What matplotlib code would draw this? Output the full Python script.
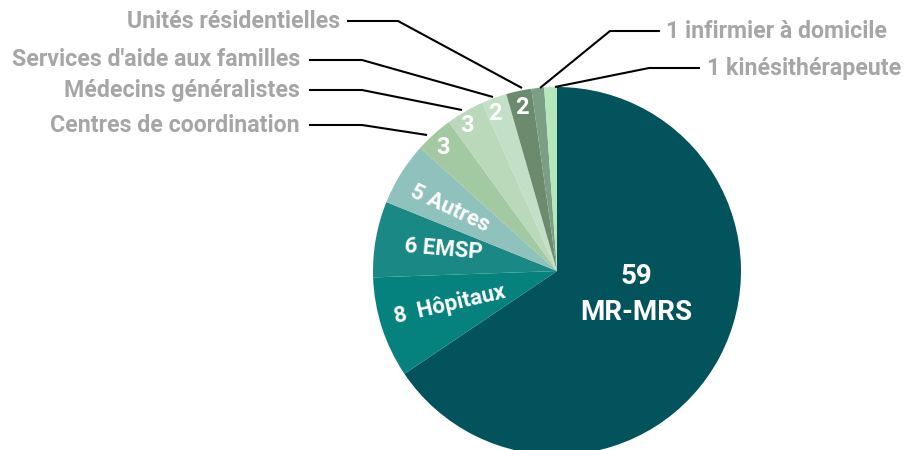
import matplotlib.pyplot as plt
import numpy as np

# données (sens horaire depuis le haut)
categories = ["MR-MRS", "Hôpitaux", "EMSP", "Autres", "Centres de coordination",
              "Médecins généralistes", "Services d'aide aux familles",
              "Unités résidentielles", "infirmier à domicile", "kinésithérapeute"]
values = [59, 8, 6, 5, 3, 3, 2, 2, 1, 1]
colors = ["#02535B", "#06827E", "#1A8986", "#8FC1BD", "#A3C9A3",
          "#BAD9BA", "#C4DFC7", "#6B8A6E", "#7A9F84", "#B5E6BC"]

W, H = 906, 450
fig = plt.figure(figsize=(W / 100, H / 100), dpi=100)
ax = fig.add_axes([0, 0, 1, 1])

cx, cy, r = 557, H - 271, 184
ax.pie(values, colors=colors, startangle=90, counterclock=False,
       center=(cx, cy), radius=r, frame=True,
       wedgeprops=dict(linewidth=0))
ax.set_xlim(0, W)
ax.set_ylim(0, H)
ax.axis("off")

font_in = ["Roboto", "DejaVu Sans"]
font_out = ["Roboto", "DejaVu Sans"]

def px(x, y):
    return x, H - y

# étiquettes internes
ax.text(*px(636, 277), "59", color="white", fontsize=20, fontweight="bold",
        family=font_in, ha="center", va="center")
ax.text(*px(636, 312), "MR-MRS", color="white", fontsize=20, fontweight="bold",
        family=font_in, ha="center", va="center")
inner = [
    ("8  " + categories[1], (450, 305), 13, 16),
    ("6 " + categories[2], (443, 249), -5, 16),
    ("5 " + categories[3], (450, 208), -25, 16),
    (str(values[4]), (443, 148), 0, 17),
    (str(values[5]), (467, 125), 0, 17),
    (str(values[6]), (495, 113), 0, 17),
    (str(values[7]), (522, 107), 0, 17),
]
for txt, (x, y), rot, fs in inner:
    ax.text(*px(x, y), txt, color="white", fontsize=fs, fontweight="bold",
            family=font_in, ha="center", va="center", rotation=rot,
            rotation_mode="anchor")

# étiquettes externes avec lignes de rappel
grey = "#A6A6A6"
left_labels = [
    (categories[7], 21, 347, 398, (522, 88), 340),
    (categories[6], 60, 309, 362, (493, 97), 300),
    (categories[5], 90, 309, 362, (462, 110), 300),
    (categories[4], 125, 309, 362, (427, 135), 300),
]
for txt, y, x0, x1, end, tx in left_labels:
    ax.plot([x0, x1, end[0]], [H - y, H - y, H - end[1]], color="black", lw=1.5,
            solid_capstyle="butt")
    ax.text(tx, H - y, txt, color=grey, fontsize=16.7, fontweight="bold",
            family=font_out, ha="right", va="center")

right_labels = [
    (str(values[8]) + " " + categories[8], 31, 660, 610, (540, 88), 666),
    (str(values[9]) + " " + categories[9], 68, 700, 649, (555, 87), 707),
]
for txt, y, x0, x1, end, tx in right_labels:
    ax.plot([x0, x1, end[0]], [H - y, H - y, H - end[1]], color="black", lw=1.5,
            solid_capstyle="butt")
    ax.text(tx, H - y, txt, color=grey, fontsize=16.7, fontweight="bold",
            family=font_out, ha="left", va="center")

fig.savefig("out.png", dpi=100)
